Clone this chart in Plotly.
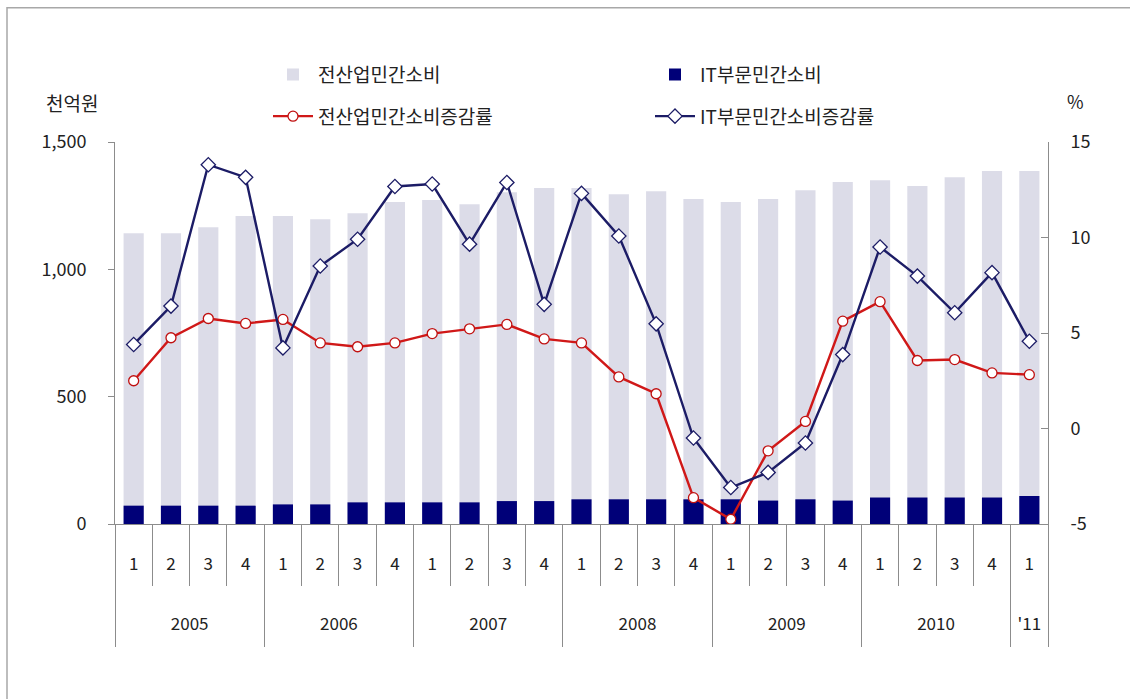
import plotly.graph_objects as go

# ---- data ----
quarters = ["1", "2", "3", "4"] * 6 + ["1"]
year_labels = ["2005", "2006", "2007", "2008", "2009", "2010", "'11"]
quarters_per_year = [4, 4, 4, 4, 4, 4, 1]

total_consumption = [1142, 1142, 1165, 1209, 1209, 1197, 1220, 1264,
                     1272, 1256, 1303, 1319, 1319, 1295, 1307, 1276,
                     1264, 1276, 1311, 1343, 1350, 1327, 1362, 1386, 1386]
it_consumption = [72, 72, 72, 72, 77, 77, 85, 85,
                  85, 85, 90, 90, 97, 97, 97, 97,
                  97, 92, 97, 92, 104, 104, 104, 104, 110]
total_growth = [2.5, 4.75, 5.76, 5.5, 5.71, 4.48, 4.28, 4.48,
                4.97, 5.22, 5.45, 4.69, 4.48, 2.7, 1.82, -3.62,
                -4.75, -1.17, 0.37, 5.62, 6.64, 3.56, 3.61, 2.91, 2.82]
it_growth = [4.4, 6.41, 13.81, 13.15, 4.22, 8.51, 9.91, 12.67,
             12.8, 9.65, 12.88, 6.5, 12.31, 10.08, 5.48, -0.5,
             -3.09, -2.3, -0.76, 3.87, 9.5, 7.98, 6.06, 8.16, 4.57]

right_tick_vals = [-5, 0, 5, 10, 15]
right_tick_text = ["-5", "0", "5", "10", "15"]

names = ["전산업민간소비", "IT부문민간소비", "전산업민간소비증감률", "IT부문민간소비증감률"]

# ---- derived positions ----
xs = list(range(len(quarters)))
year_centers, year_bounds = [], [-0.5]
start = 0
for n in quarters_per_year:
    year_centers.append(start + (n - 1) / 2)
    start += n
    year_bounds.append(start - 0.5)
q_bounds = [i - 0.5 for i in range(len(quarters) + 1)]

FONT = "Noto Sans CJK KR"
AX = "#8c8c8c"

fig = go.Figure()
fig.add_trace(go.Bar(x=xs, y=total_consumption, name=names[0], width=0.54,
                     marker=dict(color="#dcdce8", line=dict(width=0)),
                     legend="legend", legendgroup="a"))
fig.add_trace(go.Bar(x=xs, y=it_consumption, name=names[1], width=0.54,
                     marker=dict(color="#000078", line=dict(width=0)),
                     legend="legend2", legendgroup="b"))
fig.add_trace(go.Scatter(x=xs, y=total_growth, name=names[2], yaxis="y2",
                         mode="lines+markers",
                         line=dict(color="#d01818", width=2.4),
                         marker=dict(symbol="circle", size=10, color="white",
                                     line=dict(color="#c01010", width=1.3)),
                         legend="legend", legendgroup="c"))
fig.add_trace(go.Scatter(x=xs, y=it_growth, name=names[3], yaxis="y2",
                         mode="lines+markers",
                         line=dict(color="#1c1c66", width=2.4),
                         marker=dict(symbol="diamond", size=11, color="white",
                                     line=dict(color="#1c1c66", width=1.3)),
                         legend="legend2", legendgroup="d"))
# carrier trace so the year-level axis is drawn (draws nothing)
fig.add_trace(go.Scatter(x=year_centers, y=[0] * len(year_centers), xaxis="x2",
                         mode="none", showlegend=False, hoverinfo="skip"))

W, H = 1130, 699
L, R, T, B = 115, 82, 141.5, 175
pw, ph = W - L - R, H - T - B

def px(x):
    return (x - L) / pw

def py(y):
    return (H - B - y) / ph

TICKSZ = 18
TXTSZ = 19

fig.update_layout(
    width=W, height=H,
    margin=dict(l=L, r=R, t=T, b=B, pad=0),
    paper_bgcolor="white", plot_bgcolor="white",
    barmode="overlay",
    font=dict(family=FONT, size=TICKSZ, color="#222"),
    xaxis=dict(range=[-0.5, len(quarters) - 0.5], tickmode="array",
               tickvals=xs, ticktext=quarters, ticks="",
               ticklabelstandoff=25, showgrid=False, zeroline=False,
               showline=True, linecolor=AX, linewidth=1,
               tickfont=dict(size=TICKSZ - 1, family=FONT),
               minor=dict(tickmode="array", tickvals=q_bounds, ticks="outside",
                          ticklen=61, tickcolor=AX, tickwidth=1, showgrid=False)),
    xaxis2=dict(overlaying="x", anchor="y", side="bottom",
                range=[-0.5, len(quarters) - 0.5], tickmode="array",
                tickvals=year_centers, ticktext=year_labels, ticks="",
                ticklabelstandoff=88, showgrid=False, zeroline=False,
                showline=False, tickfont=dict(size=TICKSZ - 1, family=FONT),
                minor=dict(tickmode="array", tickvals=year_bounds, ticks="outside",
                           ticklen=122, tickcolor=AX, tickwidth=1, showgrid=False)),
    yaxis=dict(range=[0, 1500], tickmode="linear", tick0=0, dtick=500,
               tickformat=",", ticks="outside", ticklen=6, tickcolor=AX,
               showline=True, linecolor=AX, linewidth=1, showgrid=False,
               zeroline=False, ticklabelstandoff=18,
               tickfont=dict(size=TICKSZ, family=FONT)),
    yaxis2=dict(range=[-5, 15], tickmode="array", tickvals=right_tick_vals,
                ticktext=right_tick_text,
                overlaying="y", side="right", ticks="inside", ticklen=7,
                tickcolor=AX, showline=True, linecolor=AX, linewidth=1,
                showgrid=False, zeroline=False, ticklabelstandoff=18,
                tickfont=dict(size=TICKSZ, family=FONT)),
    legend=dict(x=px(268), y=py(55), xanchor="left", yanchor="top",
                orientation="v", tracegroupgap=14, bgcolor="rgba(0,0,0,0)",
                font=dict(size=TXTSZ, family=FONT), itemwidth=40),
    legend2=dict(x=px(650), y=py(55), xanchor="left", yanchor="top",
                 orientation="v", tracegroupgap=14, bgcolor="rgba(0,0,0,0)",
                 font=dict(size=TXTSZ, family=FONT), itemwidth=40),
    annotations=[
        dict(text="천억원", xref="paper", yref="paper", x=px(72), y=py(102),
             xanchor="center", yanchor="middle",
             showarrow=False, font=dict(size=TXTSZ, family=FONT)),
        dict(text="%", xref="paper", yref="paper", x=px(1075), y=py(100),
             xanchor="center", yanchor="middle",
             showarrow=False, font=dict(size=TICKSZ, family=FONT)),
    ],
    shapes=[
        dict(type="rect", xref="paper", yref="paper",
             x0=px(7), x1=px(1140), y0=py(710), y1=py(7),
             line=dict(color="#a8a8a8", width=1.5), layer="below"),
    ],
)

fig.write_html("out.html",
               config={"displayModeBar": False},
               post_script="document.body.style.margin='0';"
                           "document.body.style.overflow='hidden';")
